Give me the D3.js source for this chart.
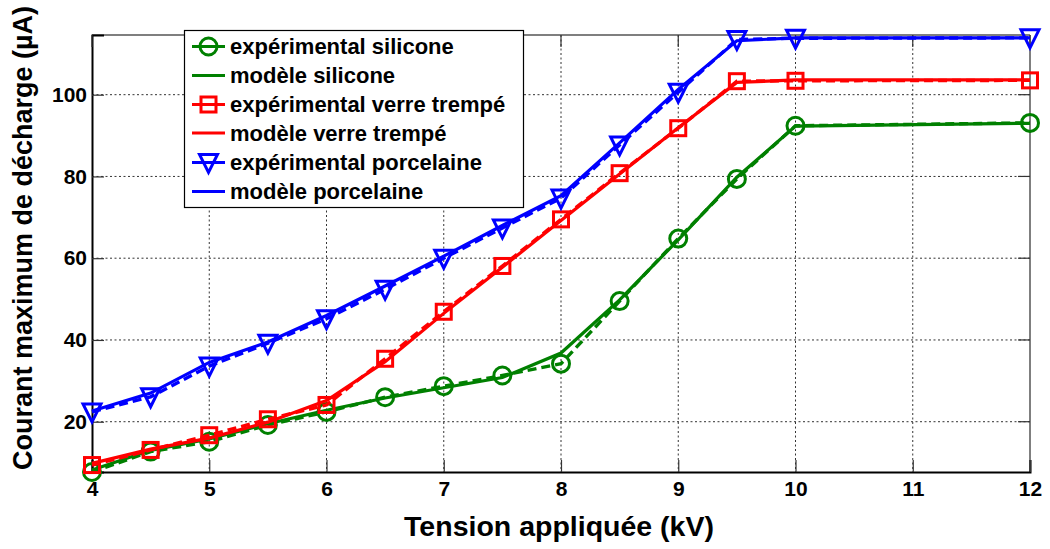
<!DOCTYPE html>
<html><head><meta charset="utf-8">
<script src="https://cdn.jsdelivr.net/npm/d3@7"></script>
<style>body{margin:0;background:#fff}svg{display:block}text{font-family:"Liberation Sans",Arial,sans-serif;font-weight:bold}</style>
</head><body>
<svg id="c" width="1050" height="549"></svg>
<script>
const voltage = [4,4.5,5,5.5,6,6.5,7,7.5,8,8.5,9,9.5,10,12];
const siliconeExp   = [7.7,12.7,15.1,19.2,22.4,26.0,28.7,31.3,34.2,49.5,64.8,79.4,92.4,93.1];
const siliconeModel = [8.2,13.0,15.8,19.5,22.8,25.8,28.3,30.8,36.8,49.8,64.5,79.8,92.3,93.0];
const verreExp      = [9.4,13.1,16.7,20.6,24.1,35.4,46.9,58.1,69.5,80.8,91.8,103.3,103.4,103.5];
const verreModel    = [9.8,13.3,16.0,19.9,25.2,34.7,46.5,57.8,69.2,80.6,91.9,103.0,103.6,103.6];
const porcExp       = [22.4,26.1,33.6,39.2,45.2,52.4,60.0,67.4,74.7,87.7,100.6,113.5,113.8,113.9];
const porcModel     = [22.6,27.0,34.5,39.5,46.0,53.2,60.5,68.0,75.3,88.2,101.3,113.2,113.9,113.9];
const xTicks = [4,5,6,7,8,9,10,11,12];
const yTicks = [20,40,60,80,100];
const labels = ["expérimental silicone","modèle silicone","expérimental verre trempé","modèle verre trempé","expérimental porcelaine","modèle porcelaine"];
const xLabel = "Tension appliquée (kV)";
const yLabel = "Courant maximum de décharge (µA)";

const L=92,R=1030,T=35,B=472;
const svg=d3.select("#c");
const x=d3.scaleLinear().domain([4,12]).range([L,R]);
const y=d3.scaleLinear().domain([7.7,114.6]).range([B,T]);

// grid
const g=svg.append("g");
g.selectAll(".gx").data(xTicks.slice(1,-1)).join("line")
 .attr("x1",d=>x(d)).attr("x2",d=>x(d)).attr("y1",T).attr("y2",B)
 .attr("stroke","#333").attr("stroke-width",1).attr("stroke-dasharray","2,2.5");
g.selectAll(".gy").data(yTicks).join("line")
 .attr("y1",d=>y(d)).attr("y2",d=>y(d)).attr("x1",L).attr("x2",R)
 .attr("stroke","#333").attr("stroke-width",1).attr("stroke-dasharray","2,2.5");

// box
svg.append("line").attr("x1",L).attr("x2",R).attr("y1",T).attr("y2",T).attr("stroke","#555").attr("stroke-width",1.5);
svg.append("line").attr("x1",R).attr("x2",R).attr("y1",T).attr("y2",B).attr("stroke","#555").attr("stroke-width",1.5);

// axes
const xa=svg.append("g").attr("transform",`translate(0,${B})`)
 .call(d3.axisBottom(x).tickValues(xTicks).tickSize(-12).tickPadding(9).tickFormat(d3.format("d")));
const ya=svg.append("g").attr("transform",`translate(${L},0)`)
 .call(d3.axisLeft(y).tickValues(yTicks).tickSize(-12).tickPadding(5).tickFormat(d3.format("d")));
[xa,ya].forEach(a=>{a.select(".domain").attr("stroke","#000").attr("stroke-width",2);
 a.selectAll(".tick line").attr("stroke","#333").attr("stroke-width",1.2);
 a.selectAll("text").attr("fill","#000").style("font-size","21px").style("font-weight","bold").style("font-family","Liberation Sans, Arial, sans-serif");});
// top/right ticks
svg.append("g").selectAll("line").data(xTicks).join("line").attr("x1",d=>x(d)).attr("x2",d=>x(d)).attr("y1",T).attr("y2",T+12).attr("stroke","#333").attr("stroke-width",1.2);
svg.append("g").selectAll("line").data(yTicks).join("line").attr("y1",d=>y(d)).attr("y2",d=>y(d)).attr("x1",R).attr("x2",R-12).attr("stroke","#333").attr("stroke-width",1.2);

svg.append("text").attr("x",559).attr("y",536).attr("text-anchor","middle").style("font-size","28.5px").text(xLabel);
svg.append("text").attr("transform","translate(32,238) rotate(-90)").attr("text-anchor","middle").style("font-size","27px").text(yLabel);

const line=d3.line().x((d,i)=>x(voltage[i])).y(d=>y(d));
const series=[
 {exp:siliconeExp,mod:siliconeModel,color:"#008000",m:"circle"},
 {exp:verreExp,mod:verreModel,color:"#ff0000",m:"square"},
 {exp:porcExp,mod:porcModel,color:"#0000ff",m:"tri"}];

function marker(sel,type,color){
 if(type==="circle") return sel.append("circle").attr("r",8.5).attr("fill","none").attr("stroke",color).attr("stroke-width",3);
 if(type==="square") return sel.append("rect").attr("x",-7.5).attr("y",-7.5).attr("width",15).attr("height",15).attr("fill","none").attr("stroke",color).attr("stroke-width",3);
 return sel.append("path").attr("d","M-9,-8L9,-8L0,10Z").attr("fill","none").attr("stroke",color).attr("stroke-width",3).attr("stroke-linejoin","miter");
}
const plot=svg.append("g");
series.forEach(s=>{
 plot.append("path").attr("d",line(s.exp)).attr("fill","none").attr("stroke",s.color).attr("stroke-width",3.4).attr("stroke-dasharray","9,5");
 s.exp.forEach((v,i)=>{const gg=plot.append("g").attr("transform",`translate(${x(voltage[i])},${y(v)})`);marker(gg,s.m,s.color);});
 plot.append("path").attr("d",line(s.mod)).attr("fill","none").attr("stroke",s.color).attr("stroke-width",3.2);
});

// legend
const lg=svg.append("g");
lg.append("rect").attr("x",184.5).attr("y",30.5).attr("width",339).attr("height",177).attr("fill","#fff").attr("stroke","#000").attr("stroke-width",1.2);
const rowY=[46.5,75.5,104.5,133,162.5,191.5];
labels.forEach((t,i)=>{
 const s=series[Math.floor(i/2)];
 lg.append("line").attr("x1",192).attr("x2",225).attr("y1",rowY[i]).attr("y2",rowY[i]).attr("stroke",s.color).attr("stroke-width",3.2);
 if(i%2===0){const gg=lg.append("g").attr("transform",`translate(208.5,${rowY[i]})`);marker(gg,s.m,s.color);}
 lg.append("text").attr("x",230).attr("y",rowY[i]).attr("dy","0.36em").style("font-size","22px").text(t);
});
</script>
</body></html>
